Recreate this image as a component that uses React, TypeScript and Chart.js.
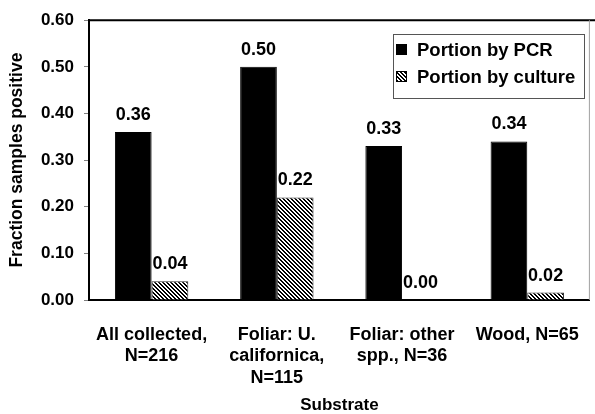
import React, { useEffect, useRef } from "react";
import { Chart, registerables } from "chart.js";

Chart.register(...registerables);

const categories: string[][] = [
  ["All collected,", "N=216"],
  ["Foliar: U.", "californica,", "N=115"],
  ["Foliar: other", "spp., N=36"],
  ["Wood, N=65"],
];
const pcrValues = [0.36, 0.5, 0.33, 0.34];
const cultureValues = [0.04, 0.22, 0.0, 0.016];
const seriesNames = ["Portion by PCR", "Portion by culture"];
const yTitle = "Fraction samples positive";
const xTitle = "Substrate";

const FONT = "'Liberation Sans', Arial, sans-serif";

function makeHatch(): CanvasPattern | string {
  const c = document.createElement("canvas");
  c.width = 4;
  c.height = 4;
  const g = c.getContext("2d");
  if (!g) return "#fff";
  g.fillStyle = "#fff";
  g.fillRect(0, 0, 4, 4);
  g.fillStyle = "#000";
  for (let y = 0; y < 4; y++) {
    for (let x = 0; x < 4; x++) {
      const d = (((x - y) % 4) + 4) % 4;
      if (d === 0 || d === 1) g.fillRect(x, y, 1, 1);
    }
  }
  const p = g.createPattern(c, "repeat");
  return p || "#fff";
}

export default function App() {
  const ref = useRef<HTMLCanvasElement>(null);

  useEffect(() => {
    if (!ref.current) return;
    const hatch = makeHatch();

    const labelPlugin = {
      id: "valueLabels",
      afterDatasetsDraw(chart: any) {
        const ctx = chart.ctx;
        ctx.save();
        ctx.fillStyle = "#000";
        ctx.font = `bold 18px ${FONT}`;
        ctx.textAlign = "center";
        ctx.textBaseline = "alphabetic";
        chart.data.datasets.forEach((ds: any, di: number) => {
          const meta = chart.getDatasetMeta(di);
          meta.data.forEach((el: any, i: number) => {
            const v = ds.data[i] as number;
            ctx.fillText(v.toFixed(2), el.x, el.y - 12);
          });
        });
        ctx.restore();
      },
    };

    const framePlugin = {
      id: "frame",
      afterDraw(chart: any) {
        const ctx = chart.ctx;
        const a = chart.chartArea;
        ctx.save();
        ctx.strokeStyle = "#000";
        ctx.lineWidth = 2;
        ctx.beginPath();
        ctx.moveTo(a.left - 1, a.top);
        ctx.lineTo(595, a.top);
        ctx.stroke();
        ctx.strokeStyle = "#a0a0a0";
        ctx.lineWidth = 1;
        ctx.beginPath();
        ctx.moveTo(a.right - 0.5, a.top);
        ctx.lineTo(a.right - 0.5, a.bottom);
        ctx.stroke();

        // legend
        const bx = 393.5, by = 34.5, bw = 191, bh = 64;
        ctx.fillStyle = "#fff";
        ctx.fillRect(bx, by, bw, bh);
        ctx.strokeStyle = "#555";
        ctx.lineWidth = 1;
        ctx.strokeRect(bx, by, bw, bh);
        const rows = [50, 77];
        const fills: any[] = [chart.data.datasets[0].backgroundColor, chart.data.datasets[1].backgroundColor];
        ctx.font = `bold 18.5px ${FONT}`;
        ctx.textAlign = "left";
        ctx.textBaseline = "middle";
        rows.forEach((cy, i) => {
          ctx.fillStyle = fills[i];
          ctx.fillRect(396, cy - 6, 11, 11);
          ctx.strokeStyle = "#000";
          ctx.strokeRect(396.5, cy - 5.5, 10, 10);
          ctx.fillStyle = "#000";
          ctx.fillText(chart.data.datasets[i].label, 417, cy + 1);
        });
        ctx.restore();
      },
    };

    const chart = new Chart(ref.current, {
      type: "bar",
      data: {
        labels: categories,
        datasets: [
          {
            label: seriesNames[0],
            data: pcrValues,
            backgroundColor: "#000",
            borderColor: "#000",
            borderWidth: 1,
          },
          {
            label: seriesNames[1],
            data: cultureValues,
            backgroundColor: hatch as any,
            borderColor: "#333",
            borderWidth: 1,
          },
        ],
      },
      options: {
        responsive: false,
        animation: false,
        layout: { padding: { top: 17, right: 1, bottom: 0, left: 0 } },
        datasets: { bar: { categoryPercentage: 0.586, barPercentage: 1 } },
        plugins: {
          legend: { display: false },
          tooltip: { enabled: false },
        },
        scales: {
          x: {
            afterFit: (s: any) => {
              s.height = 114;
            },
            grid: { display: false },
            border: { display: true, color: "#000", width: 2 },
            ticks: {
              color: "#000",
              font: { family: FONT, size: 18, weight: "bold", lineHeight: 1.2 },
              padding: 16,
              maxRotation: 0,
              autoSkip: false,
            },
            title: {
              display: true,
              text: xTitle,
              color: "#000",
              font: { family: FONT, size: 17, weight: "bold", lineHeight: 1.0 },
              padding: { top: 0, bottom: 0 },
            },
          },
          y: {
            min: 0,
            max: 0.6,
            afterFit: (s: any) => {
              s.width = 89;
            },
            grid: {
              drawOnChartArea: false,
              drawTicks: true,
              tickLength: 5,
              tickColor: "#808080",
              lineWidth: 1,
            },
            border: { display: true, color: "#000", width: 2 },
            ticks: {
              stepSize: 0.1,
              color: "#000",
              font: { family: FONT, size: 17, weight: "bold" },
              padding: 10,
              callback: (v: any) => Number(v).toFixed(2),
            },
            title: {
              display: true,
              text: yTitle,
              color: "#000",
              font: { family: FONT, size: 17.5, weight: "bold" },
              padding: { top: 7, bottom: 0 },
            },
          },
        },
      },
      plugins: [labelPlugin, framePlugin],
    });
    return () => chart.destroy();
  }, []);

  return (
    <div style={{ position: "absolute", left: 0, top: 0, width: 595, height: 414, background: "#fff" }}>
      <canvas ref={ref} width={595} height={414} style={{ display: "block" }} />
    </div>
  );
}
